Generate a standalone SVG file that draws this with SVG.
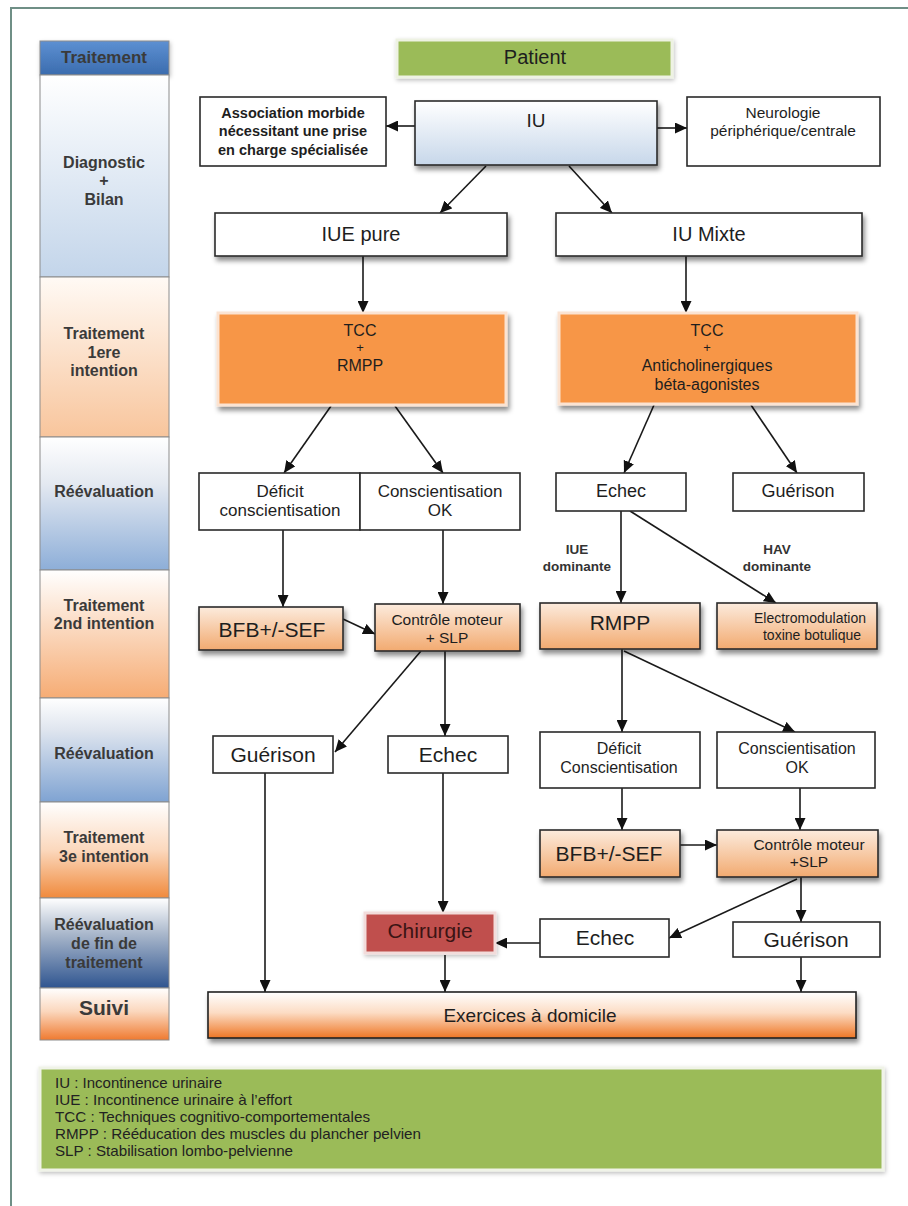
<svg xmlns="http://www.w3.org/2000/svg" width="908" height="1206" viewBox="0 0 908 1206">
<style>
text{font-family:"Liberation Sans",Arial,sans-serif;fill:#1e1e1e;text-anchor:middle}
.col text{font-weight:bold;font-size:16px;fill:#3a3a3a}
.colr{stroke:#8c8c8c;stroke-width:1}
.box{fill:#fff;stroke:#2a2a2a;stroke-width:1.6}
.pch{fill:url(#gPeach);stroke:#2a2a2a;stroke-width:1.6}
.orange{fill:#f79646;stroke:#fbe3d2;stroke-width:3}
.conn path{stroke:#1a1a1a;stroke-width:1.6;fill:none;marker-end:url(#ah)}
.lbl{font-weight:bold;font-size:13.5px;fill:#333}
.leg{text-anchor:start;font-size:14.5px;fill:#222}
</style>
<defs>
<marker id="ah" markerWidth="12" markerHeight="11" refX="12" refY="5.5" orient="auto" markerUnits="userSpaceOnUse"><path d="M0,0 L12,5.5 L0,11 z" fill="#111"/></marker>
<filter id="sh" x="-10%" y="-20%" width="125%" height="160%"><feDropShadow dx="2" dy="4" stdDeviation="2.5" flood-color="#000" flood-opacity="0.45"/></filter>
<filter id="shl" x="-10%" y="-10%" width="125%" height="130%"><feDropShadow dx="1" dy="2" stdDeviation="2" flood-color="#000" flood-opacity="0.25"/></filter>
<linearGradient id="gHead" x1="0" y1="0" x2="0" y2="1"><stop offset="0" stop-color="#5d90d2"/><stop offset="1" stop-color="#3b6cae"/></linearGradient>
<linearGradient id="gDiag" x1="0" y1="0" x2="0" y2="1"><stop offset="0" stop-color="#ffffff"/><stop offset="1" stop-color="#c3d5ea"/></linearGradient>
<linearGradient id="gT1" x1="0" y1="0" x2="0" y2="1"><stop offset="0" stop-color="#fffaf5"/><stop offset="1" stop-color="#f8c59c"/></linearGradient>
<linearGradient id="gR1" x1="0" y1="0" x2="0" y2="1"><stop offset="0" stop-color="#ffffff"/><stop offset="0.35" stop-color="#e4e9f1"/><stop offset="1" stop-color="#8daed8"/></linearGradient>
<linearGradient id="gT2" x1="0" y1="0" x2="0" y2="1"><stop offset="0" stop-color="#ffffff"/><stop offset="1" stop-color="#f6ac74"/></linearGradient>
<linearGradient id="gR2" x1="0" y1="0" x2="0" y2="1"><stop offset="0" stop-color="#ffffff"/><stop offset="0.3" stop-color="#e0e6ef"/><stop offset="1" stop-color="#7fa3d2"/></linearGradient>
<linearGradient id="gT3" x1="0" y1="0" x2="0" y2="1"><stop offset="0" stop-color="#ffffff"/><stop offset="0.5" stop-color="#fbd8bd"/><stop offset="1" stop-color="#f08a3c"/></linearGradient>
<linearGradient id="gR3" x1="0" y1="0" x2="0" y2="1"><stop offset="0" stop-color="#ffffff"/><stop offset="0.4" stop-color="#a9b7cb"/><stop offset="1" stop-color="#2f5590"/></linearGradient>
<linearGradient id="gSuivi" x1="0" y1="0" x2="0" y2="1"><stop offset="0" stop-color="#ffffff"/><stop offset="0.45" stop-color="#fbd7bd"/><stop offset="1" stop-color="#ef7a30"/></linearGradient>
<linearGradient id="gIU" x1="0" y1="0" x2="0" y2="1"><stop offset="0" stop-color="#ffffff"/><stop offset="1" stop-color="#c7d7ea"/></linearGradient>
<linearGradient id="gPeach" x1="0" y1="0" x2="0" y2="1"><stop offset="0" stop-color="#fcebdd"/><stop offset="1" stop-color="#f2aa70"/></linearGradient>
<linearGradient id="gEx" x1="0" y1="0" x2="0" y2="1"><stop offset="0" stop-color="#ffffff"/><stop offset="0.45" stop-color="#fcdcc4"/><stop offset="1" stop-color="#ee7624"/></linearGradient>
</defs>
<rect x="0" y="0" width="908" height="1206" fill="#ffffff"/>
<path d="M11,1206 V8 H908" stroke="#6f8f86" stroke-width="2" fill="none"/>

<g class="col" id="phases">
<g id="ph-head"><rect class="colr" x="40" y="41" width="129" height="34" fill="url(#gHead)" filter="url(#shl)"/><text x="104" y="63" style="font-size:17px">Traitement</text></g>
<g id="ph-diag"><rect class="colr" x="40" y="75" width="129" height="202" fill="url(#gDiag)"/><text x="104" y="168">Diagnostic</text><text x="104" y="186">+</text><text x="104" y="205">Bilan</text></g>
<g id="ph-t1"><rect class="colr" x="40" y="277" width="129" height="160" fill="url(#gT1)"/><text x="104" y="339">Traitement</text><text x="104" y="358">1ere</text><text x="104" y="376">intention</text></g>
<g id="ph-r1"><rect class="colr" x="40" y="437" width="129" height="133" fill="url(#gR1)"/><text x="104" y="497">Réévaluation</text></g>
<g id="ph-t2"><rect class="colr" x="40" y="570" width="129" height="128" fill="url(#gT2)"/><text x="104" y="611">Traitement</text><text x="104" y="629">2nd intention</text></g>
<g id="ph-r2"><rect class="colr" x="40" y="698" width="129" height="104" fill="url(#gR2)"/><text x="104" y="759">Réévaluation</text></g>
<g id="ph-t3"><rect class="colr" x="40" y="802" width="129" height="96" fill="url(#gT3)"/><text x="104" y="843">Traitement</text><text x="104" y="862">3e intention</text></g>
<g id="ph-r3"><rect class="colr" x="40" y="898" width="129" height="90" fill="url(#gR3)"/><text x="104" y="930">Réévaluation</text><text x="104" y="949">de fin de</text><text x="104" y="968">traitement</text></g>
<g id="ph-suivi"><rect class="colr" x="40" y="988" width="129" height="52" fill="url(#gSuivi)"/><text x="104" y="1015" style="font-size:21px">Suivi</text></g>
</g>

<g class="conn" id="connectors">
<path d="M415,126 L386,126"/>
<path d="M657,128 L687,128"/>
<path d="M486,166 L440,213"/>
<path d="M569,166 L612,213"/>
<path d="M363,256 L363,313"/>
<path d="M686,256 L686,313"/>
<path d="M331,406 L284,473"/>
<path d="M395,406 L443,473"/>
<path d="M654,405 L624,473"/>
<path d="M751,405 L797,473"/>
<path d="M283,530 L283,607"/>
<path d="M443,530 L443,604"/>
<path d="M343,619 L375,634"/>
<path d="M421,651 L335,752"/>
<path d="M445,651 L445,736"/>
<path d="M265,773 L265,992"/>
<path d="M443,773 L443,913"/>
<path d="M445,955 L445,992"/>
<path d="M621,511 L621,603"/>
<path d="M630,511 L776,603"/>
<path d="M622,649 L622,732"/>
<path d="M624,651 L795,732"/>
<path d="M622,788 L622,830"/>
<path d="M800,788 L800,830"/>
<path d="M680,845 L717,845"/>
<path d="M797,879 L669,938"/>
<path d="M801,877 L801,922"/>
<path d="M540,943 L495,943"/>
<path d="M801,957 L801,992"/>
</g>

<g id="patient"><rect x="397" y="40" width="275" height="37" fill="#9bbb59" stroke="#eef2e3" stroke-width="3" filter="url(#shl)"/><text x="535" y="64" font-size="20">Patient</text></g>
<g id="assoc"><rect class="box" x="200" y="97" width="186" height="69"/><text x="293" y="118" font-size="14.5" font-weight="bold">Association morbide</text><text x="293" y="136" font-size="14.5" font-weight="bold">nécessitant une prise</text><text x="293" y="155" font-size="14.5" font-weight="bold">en charge spécialisée</text></g>
<g id="iu"><rect x="415" y="101" width="242" height="64" fill="url(#gIU)" stroke="#2a2a2a" stroke-width="1.6" filter="url(#sh)"/><text x="536" y="127" font-size="19">IU</text></g>
<g id="neuro"><rect class="box" x="687" y="97" width="193" height="69"/><text x="783" y="118" font-size="15.5">Neurologie</text><text x="783" y="136" font-size="15.5">périphérique/centrale</text></g>
<g id="iue-pure"><rect class="box" x="215" y="213" width="292" height="43" filter="url(#sh)"/><text x="361" y="241" font-size="20">IUE pure</text></g>
<g id="iu-mixte"><rect class="box" x="556" y="213" width="306" height="43" filter="url(#sh)"/><text x="709" y="241" font-size="20">IU Mixte</text></g>
<g id="tcc-rmpp"><rect class="orange" x="218" y="313" width="288" height="92" filter="url(#sh)"/><text x="360" y="336" font-size="16">TCC</text><text x="360" y="352" font-size="13">+</text><text x="360" y="371" font-size="16">RMPP</text></g>
<g id="tcc-anti"><rect class="orange" x="559" y="313" width="298" height="91" filter="url(#sh)"/><text x="707" y="336" font-size="16">TCC</text><text x="707" y="352" font-size="13">+</text><text x="707" y="371" font-size="16">Anticholinergiques</text><text x="707" y="390" font-size="16">béta-agonistes</text></g>
<g id="deficit-l"><rect class="box" x="199" y="473" width="161" height="57"/><text x="280" y="497" font-size="17">Déficit</text><text x="280" y="516" font-size="17">conscientisation</text></g>
<g id="consc-l"><rect class="box" x="360" y="473" width="160" height="57"/><text x="440" y="497" font-size="17">Conscientisation</text><text x="440" y="516" font-size="17">OK</text></g>
<g id="echec-r1"><rect class="box" x="556" y="473" width="130" height="38"/><text x="621" y="497" font-size="18">Echec</text></g>
<g id="guer-r1"><rect class="box" x="733" y="473" width="131" height="38"/><text x="798" y="497" font-size="18">Guérison</text></g>
<g id="lbl-iue"><text class="lbl" x="577" y="554">IUE</text><text class="lbl" x="577" y="571">dominante</text></g>
<g id="lbl-hav"><text class="lbl" x="777" y="554">HAV</text><text class="lbl" x="777" y="571">dominante</text></g>
<g id="bfb-l"><rect class="pch" x="199" y="607" width="144" height="43" filter="url(#sh)"/><text x="272" y="637" font-size="21">BFB+/-SEF</text></g>
<g id="ctrl-l"><rect class="pch" x="375" y="604" width="145" height="47" filter="url(#sh)"/><text x="447" y="625" font-size="15.5">Contrôle moteur</text><text x="447" y="643" font-size="15.5">+ SLP</text></g>
<g id="rmpp"><rect class="pch" x="540" y="603" width="160" height="46" filter="url(#sh)"/><text x="620" y="630" font-size="21">RMPP</text></g>
<g id="electro"><rect class="pch" x="717" y="603" width="160" height="46" filter="url(#sh)"/><text x="810" y="623" font-size="14">Electromodulation</text><text x="812" y="640" font-size="14">toxine botulique</text></g>
<g id="guer-l"><rect class="box" x="213" y="736" width="120" height="37"/><text x="273" y="762" font-size="21">Guérison</text></g>
<g id="echec-m"><rect class="box" x="388" y="736" width="120" height="37"/><text x="448" y="762" font-size="21">Echec</text></g>
<g id="deficit-r"><rect class="box" x="540" y="732" width="160" height="56"/><text x="619" y="754" font-size="16">Déficit</text><text x="619" y="773" font-size="16">Conscientisation</text></g>
<g id="consc-r"><rect class="box" x="717" y="732" width="158" height="56"/><text x="797" y="754" font-size="16">Conscientisation</text><text x="797" y="773" font-size="16">OK</text></g>
<g id="bfb-r"><rect class="pch" x="540" y="830" width="140" height="47" filter="url(#sh)"/><text x="609" y="861" font-size="21">BFB+/-SEF</text></g>
<g id="ctrl-r"><rect class="pch" x="717" y="830" width="161" height="47" filter="url(#sh)"/><text x="809" y="850" font-size="15.5">Contrôle moteur</text><text x="809" y="867" font-size="15.5">+SLP</text></g>
<g id="chirurgie"><rect x="365" y="913" width="130" height="40" fill="#c0504d" stroke="#f2dcdb" stroke-width="3" filter="url(#shl)"/><text x="430" y="938" font-size="21" style="fill:#3b1414">Chirurgie</text></g>
<g id="echec-r"><rect class="box" x="540" y="919" width="129" height="38"/><text x="605" y="945" font-size="21">Echec</text></g>
<g id="guer-r"><rect class="box" x="733" y="922" width="147" height="35"/><text x="806" y="947" font-size="21">Guérison</text></g>
<g id="exercices"><rect x="208" y="992" width="648" height="46" fill="url(#gEx)" stroke="#222" stroke-width="1.6" filter="url(#sh)"/><text x="530" y="1022" font-size="19">Exercices à domicile</text></g>

<g id="legend"><rect x="40" y="1068" width="843" height="102" fill="#9bbb59" stroke="#f0f3e8" stroke-width="3" filter="url(#shl)"/>
<text class="leg" x="55" y="1088" textLength="167" lengthAdjust="spacingAndGlyphs">IU : Incontinence urinaire</text>
<text class="leg" x="55" y="1105" textLength="237" lengthAdjust="spacingAndGlyphs">IUE : Incontinence urinaire à l’effort</text>
<text class="leg" x="55" y="1122" textLength="315" lengthAdjust="spacingAndGlyphs">TCC : Techniques cognitivo-comportementales</text>
<text class="leg" x="55" y="1139" textLength="366" lengthAdjust="spacingAndGlyphs">RMPP : Rééducation des muscles du plancher pelvien</text>
<text class="leg" x="55" y="1156" textLength="238" lengthAdjust="spacingAndGlyphs">SLP : Stabilisation lombo-pelvienne</text>
</g>
</svg>
